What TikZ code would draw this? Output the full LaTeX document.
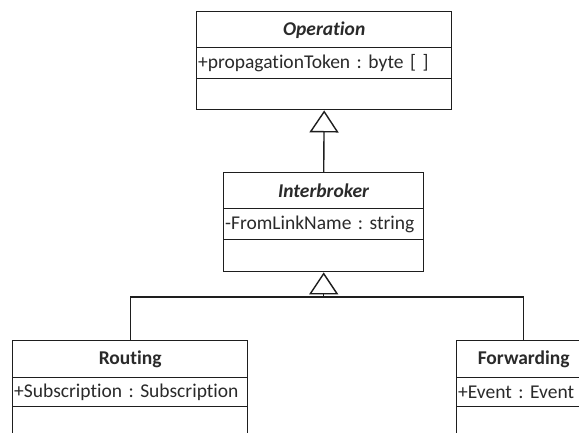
\documentclass[tikz,border=0pt]{standalone}
\usepackage{fontspec}
\setmainfont[Ligatures={NoCommon}]{Carlito}
\frenchspacing
\usetikzlibrary{arrows.meta}

\definecolor{umlline}{HTML}{1E1E1E}
\definecolor{umltext}{HTML}{2A2A2A}

\tikzset{
  umlfont/.style={font=\fontsize{19.5}{22}\selectfont, text=umltext},
  compart/.style={draw=umlline, line width=1.4pt, fill=white, inner sep=0pt,
    anchor=north west, umlfont},
  titlebox/.style={compart, minimum width=#1, align=center},
  attrbox/.style={compart, text width=#1-3pt, inner xsep=1.5pt, align=left},
  opbox/.style={compart, minimum width=#1},
  conn/.style={draw=umlline, line width=1.4pt},
  inherit/.style={conn, -{Triangle[open, width=29pt, length=22pt, line width=1.4pt]}}
}

\begin{document}
\begin{tikzpicture}[x=1pt, y=-1pt]
  \useasboundingbox (0,0) rectangle (579,432);
  \clip (0,0) rectangle (579,432);
  \fill[white] (0,0) rectangle (579,432);

  % Operation (abstract)
  \node[titlebox=255pt, minimum height=36pt] (op) at (196,11) {\textbf{\textit{Operation}}};
  \node[attrbox=255pt, minimum height=31pt] (opa) at (196,47) {+propagationToken : byte [ ]};
  \node[opbox=255pt, minimum height=31pt] (opo) at (196,78) {};

  % Interbroker (abstract)
  \node[titlebox=200pt, minimum height=36pt] (ib) at (223,172) {\textbf{\textit{Interbroker}}};
  \node[attrbox=200pt, minimum height=31pt] (iba) at (223,208) {-FromLinkName : string};
  \node[opbox=200pt, minimum height=32pt] (ibo) at (223,239) {};

  % Routing
  \node[titlebox=235pt, minimum height=37pt] (rt) at (12,340) {\textbf{Routing}};
  \node[attrbox=235pt, minimum height=29pt] (rta) at (12,377) {+Subscription : Subscription};
  \node[opbox=235pt, minimum height=40pt] (rto) at (12,406) {};

  % Forwarding
  \node[titlebox=134pt, minimum height=37pt] (fw) at (456,340) {\textbf{Forwarding}};
  \node[attrbox=134pt, minimum height=29pt] (fwa) at (456,377) {+Event : Event};
  \node[opbox=134pt, minimum height=40pt] (fwo) at (456,406) {};

  % Generalisations
  \draw[inherit] (ib.north) -- (opo.south);
  \coordinate (bus) at (ibo.south |- 0,297);
  \draw[conn] (rt.north) |- (bus) -| (fw.north);
  \draw[inherit] (bus) -- (ibo.south);
\end{tikzpicture}
\end{document}
